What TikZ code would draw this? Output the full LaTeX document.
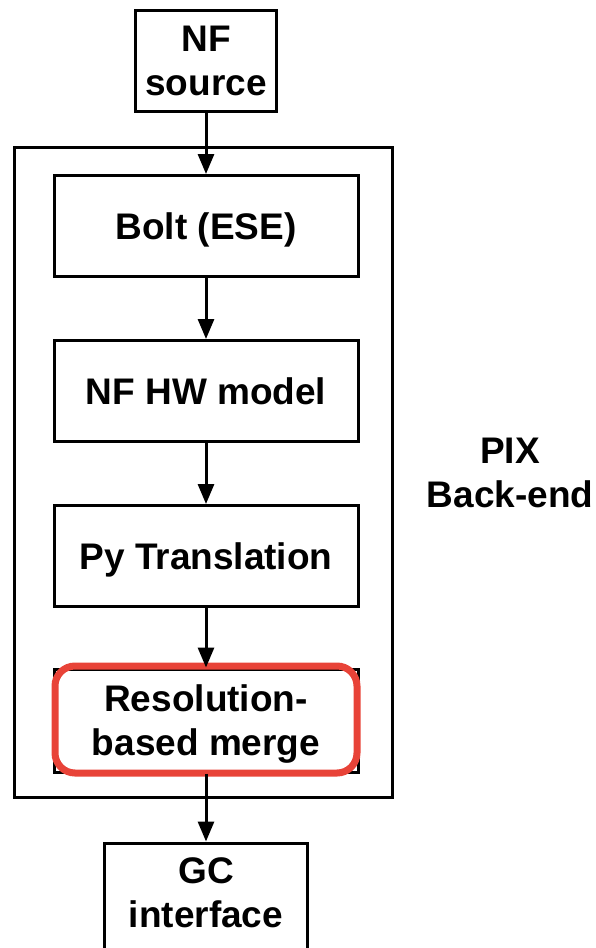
\documentclass[tikz,border=0pt]{standalone}
\usepackage{fontspec}
\setmainfont{Liberation Sans}
\usepackage{xcolor}
\usetikzlibrary{arrows.meta,positioning}
\definecolor{hlred}{RGB}{232,67,56}

\begin{document}
\begin{tikzpicture}[x=1pt,y=-1pt,
  every node/.style={font=\fontsize{37}{44}\selectfont\bfseries},
  blk/.style={draw,line width=3pt,minimum width=304pt,minimum height=101pt,align=center,inner sep=0pt,text depth=0pt},
  io/.style={draw,line width=3pt,align=center,inner sep=0pt},
  hl/.style={draw=hlred,line width=7pt,rounded corners=20pt,minimum width=302pt,minimum height=107pt,inner sep=0pt},
  flow/.style={-{Triangle[length=20pt,width=16pt]},line width=3pt}]
 \useasboundingbox (0,0) rectangle (595,948);
 \node[draw,line width=3pt,minimum width=378pt,minimum height=650pt] (pix) at (203,472) {};
 \node[io,minimum width=141pt,minimum height=101pt] (src) at (206,60.5) {NF\\source};
 \node[blk] (bolt)  at (206,226) {Bolt (ESE)};
 \node[blk] (hw)    at (206,391) {NF HW model};
 \node[blk] (py)    at (206,556) {Py Translation};
 \node[blk,minimum height=103pt] (merge) at (206,720.5) {Resolution-\\based merge};
 \node[hl] (mark) at (206,719.5) {};
 \node[io,minimum width=203pt,minimum height=140pt] (gc) at (206,913) {};
 \node[align=center] (gctxt) at (206,893) {GC\\interface};
 \node[align=center] (back) at (510,473) {PIX\\Back-end};
 \foreach \a/\b in {src/bolt,bolt/hw,hw/py,py/merge,merge/gc} \draw[flow] (\a.south) -- (\b.north);
\end{tikzpicture}
\end{document}
